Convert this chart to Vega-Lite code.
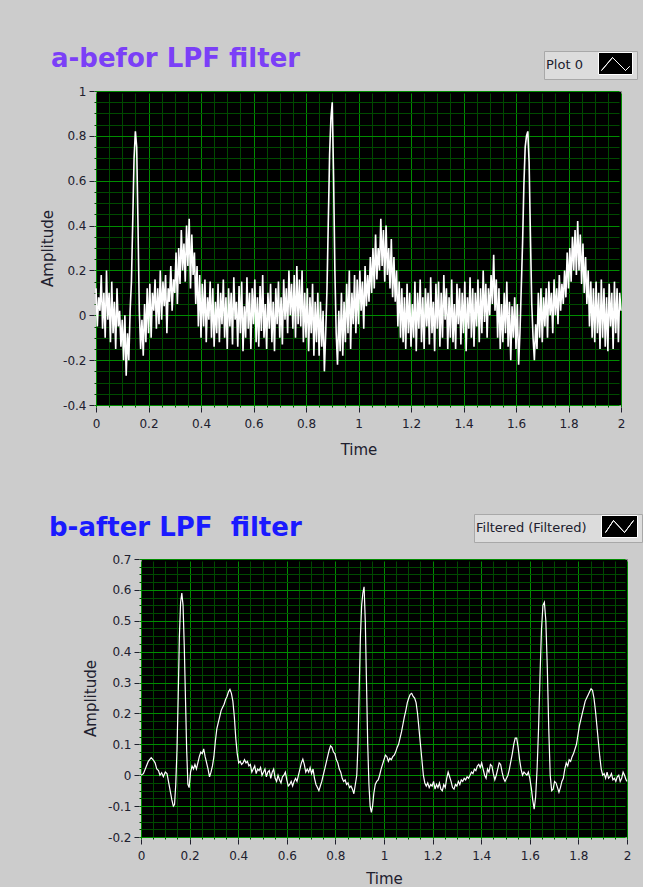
{
  "$schema": "https://vega.github.io/schema/vega-lite/v6.json",
  "background": "#cccccc",
  "padding": {"left": 38, "top": 45, "right": 0, "bottom": 0},
  "spacing": 55,
  "resolve": {"scale": {"stroke": "independent"}, "legend": {"stroke": "independent"}},
  "datasets": {
    "raw": [
{"t":0,"v":0.12},{"t":0.005,"v":-0.05},{"t":0.01,"v":0.08},{"t":0.015,"v":0.02},{"t":0.02,"v":0.18},{"t":0.025,"v":-0.06},{"t":0.03,"v":0.1},{"t":0.035,"v":-0.1},{"t":0.04,"v":0.2},{"t":0.045,"v":-0.02},
{"t":0.05,"v":0.1},{"t":0.055,"v":-0.12},{"t":0.06,"v":0.15},{"t":0.065,"v":-0.08},{"t":0.07,"v":0.06},{"t":0.075,"v":-0.15},{"t":0.08,"v":0.12},{"t":0.085,"v":-0.05},{"t":0.09,"v":0.02},{"t":0.095,"v":-0.14},
{"t":0.1,"v":-0.02},{"t":0.105,"v":-0.2},{"t":0.11,"v":0},{"t":0.115,"v":-0.27},{"t":0.12,"v":-0.08},{"t":0.125,"v":-0.2},{"t":0.13,"v":0.02},{"t":0.135,"v":0.15},{"t":0.14,"v":0.42},{"t":0.145,"v":0.7},
{"t":0.15,"v":0.82},{"t":0.155,"v":0.75},{"t":0.16,"v":0.4},{"t":0.165,"v":0.02},{"t":0.17,"v":-0.15},{"t":0.175,"v":-0.02},{"t":0.18,"v":-0.18},{"t":0.185,"v":0.05},{"t":0.19,"v":-0.12},{"t":0.195,"v":0.12},
{"t":0.2,"v":-0.08},{"t":0.205,"v":0.14},{"t":0.21,"v":-0.1},{"t":0.215,"v":0.1},{"t":0.22,"v":0.02},{"t":0.225,"v":0.16},{"t":0.23,"v":-0.06},{"t":0.235,"v":0.12},{"t":0.24,"v":-0.04},{"t":0.245,"v":0.2},
{"t":0.25,"v":-0.02},{"t":0.255,"v":0.15},{"t":0.26,"v":0.04},{"t":0.265,"v":0.18},{"t":0.27,"v":-0.08},{"t":0.275,"v":0.12},{"t":0.28,"v":0.06},{"t":0.285,"v":0.22},{"t":0.29,"v":0.02},{"t":0.295,"v":0.16},
{"t":0.3,"v":0.1},{"t":0.305,"v":0.28},{"t":0.31,"v":0.05},{"t":0.315,"v":0.3},{"t":0.32,"v":0.14},{"t":0.325,"v":0.38},{"t":0.33,"v":0.2},{"t":0.335,"v":0.32},{"t":0.34,"v":0.15},{"t":0.345,"v":0.4},
{"t":0.35,"v":0.22},{"t":0.355,"v":0.43},{"t":0.36,"v":0.12},{"t":0.365,"v":0.36},{"t":0.37,"v":0.18},{"t":0.375,"v":0.28},{"t":0.38,"v":0.05},{"t":0.385,"v":0.22},{"t":0.39,"v":-0.05},{"t":0.395,"v":0.18},
{"t":0.4,"v":-0.1},{"t":0.405,"v":0.14},{"t":0.41,"v":-0.05},{"t":0.415,"v":0.16},{"t":0.42,"v":-0.12},{"t":0.425,"v":0.08},{"t":0.43,"v":-0.02},{"t":0.435,"v":0.15},{"t":0.44,"v":-0.1},{"t":0.445,"v":0.12},
{"t":0.45,"v":-0.14},{"t":0.455,"v":0.06},{"t":0.46,"v":-0.08},{"t":0.465,"v":0.14},{"t":0.47,"v":-0.12},{"t":0.475,"v":0.1},{"t":0.48,"v":-0.04},{"t":0.485,"v":0.16},{"t":0.49,"v":-0.1},{"t":0.495,"v":0.08},
{"t":0.5,"v":-0.15},{"t":0.505,"v":0.12},{"t":0.51,"v":-0.05},{"t":0.515,"v":0.1},{"t":0.52,"v":-0.13},{"t":0.525,"v":0.17},{"t":0.53,"v":-0.02},{"t":0.535,"v":0.06},{"t":0.54,"v":-0.14},{"t":0.545,"v":0.13},
{"t":0.55,"v":-0.08},{"t":0.555,"v":0.15},{"t":0.56,"v":-0.16},{"t":0.565,"v":0.04},{"t":0.57,"v":-0.1},{"t":0.575,"v":0.17},{"t":0.58,"v":-0.06},{"t":0.585,"v":0.1},{"t":0.59,"v":-0.15},{"t":0.595,"v":0.12},
{"t":0.6,"v":-0.04},{"t":0.605,"v":0.16},{"t":0.61,"v":-0.12},{"t":0.615,"v":0.08},{"t":0.62,"v":-0.14},{"t":0.625,"v":0.13},{"t":0.63,"v":-0.07},{"t":0.635,"v":0.18},{"t":0.64,"v":-0.1},{"t":0.645,"v":0.05},
{"t":0.65,"v":-0.15},{"t":0.655,"v":0.1},{"t":0.66,"v":-0.06},{"t":0.665,"v":0.14},{"t":0.67,"v":-0.12},{"t":0.675,"v":0.06},{"t":0.68,"v":-0.16},{"t":0.685,"v":0.12},{"t":0.69,"v":-0.04},{"t":0.695,"v":0.15},
{"t":0.7,"v":-0.1},{"t":0.705,"v":0.08},{"t":0.71,"v":-0.13},{"t":0.715,"v":0.16},{"t":0.72,"v":-0.02},{"t":0.725,"v":0.12},{"t":0.73,"v":-0.08},{"t":0.735,"v":0.2},{"t":0.74,"v":0},{"t":0.745,"v":0.14},
{"t":0.75,"v":-0.06},{"t":0.755,"v":0.18},{"t":0.76,"v":-0.1},{"t":0.765,"v":0.22},{"t":0.77,"v":-0.04},{"t":0.775,"v":0.16},{"t":0.78,"v":-0.05},{"t":0.785,"v":0.2},{"t":0.79,"v":-0.12},{"t":0.795,"v":0.1},
{"t":0.8,"v":-0.1},{"t":0.805,"v":0.12},{"t":0.81,"v":-0.16},{"t":0.815,"v":0.08},{"t":0.82,"v":-0.08},{"t":0.825,"v":0.14},{"t":0.83,"v":-0.18},{"t":0.835,"v":0.06},{"t":0.84,"v":-0.12},{"t":0.845,"v":0.1},
{"t":0.85,"v":-0.18},{"t":0.855,"v":0.06},{"t":0.86,"v":-0.14},{"t":0.865,"v":0.02},{"t":0.87,"v":-0.25},{"t":0.875,"v":-0.08},{"t":0.88,"v":0.12},{"t":0.885,"v":0.42},{"t":0.89,"v":0.72},{"t":0.895,"v":0.88},
{"t":0.9,"v":0.95},{"t":0.905,"v":0.62},{"t":0.91,"v":0.2},{"t":0.915,"v":-0.08},{"t":0.92,"v":-0.22},{"t":0.925,"v":0.02},{"t":0.93,"v":-0.16},{"t":0.935,"v":0.1},{"t":0.94,"v":-0.18},{"t":0.945,"v":0.06},
{"t":0.95,"v":-0.12},{"t":0.955,"v":0.14},{"t":0.96,"v":-0.08},{"t":0.965,"v":0.2},{"t":0.97,"v":-0.15},{"t":0.975,"v":0.1},{"t":0.98,"v":-0.04},{"t":0.985,"v":0.18},{"t":0.99,"v":-0.08},{"t":0.995,"v":0.16},
{"t":1,"v":-0.04},{"t":1.005,"v":0.2},{"t":1.01,"v":0.02},{"t":1.015,"v":0.15},{"t":1.02,"v":-0.06},{"t":1.025,"v":0.22},{"t":1.03,"v":0.04},{"t":1.035,"v":0.18},{"t":1.04,"v":0.06},{"t":1.045,"v":0.26},
{"t":1.05,"v":0.1},{"t":1.055,"v":0.3},{"t":1.06,"v":0.12},{"t":1.065,"v":0.36},{"t":1.07,"v":0.16},{"t":1.075,"v":0.3},{"t":1.08,"v":0.2},{"t":1.085,"v":0.43},{"t":1.09,"v":0.22},{"t":1.095,"v":0.38},
{"t":1.1,"v":0.15},{"t":1.105,"v":0.4},{"t":1.11,"v":0.18},{"t":1.115,"v":0.3},{"t":1.12,"v":0.12},{"t":1.125,"v":0.34},{"t":1.13,"v":0.08},{"t":1.135,"v":0.26},{"t":1.14,"v":0.06},{"t":1.145,"v":0.2},
{"t":1.15,"v":-0.05},{"t":1.155,"v":0.15},{"t":1.16,"v":-0.1},{"t":1.165,"v":0.12},{"t":1.17,"v":-0.12},{"t":1.175,"v":0.08},{"t":1.18,"v":-0.15},{"t":1.185,"v":0.14},{"t":1.19,"v":-0.08},{"t":1.195,"v":0.1},
{"t":1.2,"v":-0.14},{"t":1.205,"v":0.05},{"t":1.21,"v":-0.1},{"t":1.215,"v":0.15},{"t":1.22,"v":-0.16},{"t":1.225,"v":0.1},{"t":1.23,"v":-0.06},{"t":1.235,"v":0.16},{"t":1.24,"v":-0.12},{"t":1.245,"v":0.08},
{"t":1.25,"v":-0.15},{"t":1.255,"v":0.12},{"t":1.26,"v":-0.05},{"t":1.265,"v":0.1},{"t":1.27,"v":-0.13},{"t":1.275,"v":0.17},{"t":1.28,"v":-0.08},{"t":1.285,"v":0.06},{"t":1.29,"v":-0.16},{"t":1.295,"v":0.14},
{"t":1.3,"v":-0.06},{"t":1.305,"v":0.15},{"t":1.31,"v":-0.14},{"t":1.315,"v":0.1},{"t":1.32,"v":-0.1},{"t":1.325,"v":0.18},{"t":1.33,"v":-0.02},{"t":1.335,"v":0.12},{"t":1.34,"v":-0.15},{"t":1.345,"v":0.08},
{"t":1.35,"v":-0.1},{"t":1.355,"v":0.16},{"t":1.36,"v":-0.12},{"t":1.365,"v":0.05},{"t":1.37,"v":-0.15},{"t":1.375,"v":0.14},{"t":1.38,"v":-0.04},{"t":1.385,"v":0.12},{"t":1.39,"v":-0.13},{"t":1.395,"v":0.1},
{"t":1.4,"v":-0.08},{"t":1.405,"v":0.15},{"t":1.41,"v":-0.16},{"t":1.415,"v":0.08},{"t":1.42,"v":-0.06},{"t":1.425,"v":0.17},{"t":1.43,"v":-0.1},{"t":1.435,"v":0.12},{"t":1.44,"v":-0.14},{"t":1.445,"v":0.1},
{"t":1.45,"v":-0.05},{"t":1.455,"v":0.16},{"t":1.46,"v":-0.12},{"t":1.465,"v":0.12},{"t":1.47,"v":-0.08},{"t":1.475,"v":0.2},{"t":1.48,"v":-0.03},{"t":1.485,"v":0.14},{"t":1.49,"v":-0.1},{"t":1.495,"v":0.12},
{"t":1.5,"v":0},{"t":1.505,"v":0.18},{"t":1.51,"v":0.05},{"t":1.515,"v":0.27},{"t":1.52,"v":0.02},{"t":1.525,"v":0.16},{"t":1.53,"v":-0.1},{"t":1.535,"v":0.12},{"t":1.54,"v":-0.15},{"t":1.545,"v":0.05},
{"t":1.55,"v":-0.12},{"t":1.555,"v":0.1},{"t":1.56,"v":-0.08},{"t":1.565,"v":0.15},{"t":1.57,"v":-0.14},{"t":1.575,"v":0.06},{"t":1.58,"v":-0.2},{"t":1.585,"v":0.04},{"t":1.59,"v":-0.1},{"t":1.595,"v":0.08},
{"t":1.6,"v":-0.15},{"t":1.605,"v":0.05},{"t":1.61,"v":-0.22},{"t":1.615,"v":-0.08},{"t":1.62,"v":0.12},{"t":1.625,"v":0.32},{"t":1.63,"v":0.58},{"t":1.635,"v":0.75},{"t":1.64,"v":0.8},{"t":1.645,"v":0.82},
{"t":1.65,"v":0.68},{"t":1.655,"v":0.35},{"t":1.66,"v":0.05},{"t":1.665,"v":-0.1},{"t":1.67,"v":-0.2},{"t":1.675,"v":-0.04},{"t":1.68,"v":-0.15},{"t":1.685,"v":0.1},{"t":1.69,"v":-0.1},{"t":1.695,"v":0.12},
{"t":1.7,"v":-0.12},{"t":1.705,"v":0.08},{"t":1.71,"v":-0.05},{"t":1.715,"v":0.12},{"t":1.72,"v":-0.1},{"t":1.725,"v":0.15},{"t":1.73,"v":0},{"t":1.735,"v":0.1},{"t":1.74,"v":-0.08},{"t":1.745,"v":0.16},
{"t":1.75,"v":0},{"t":1.755,"v":0.12},{"t":1.76,"v":-0.04},{"t":1.765,"v":0.18},{"t":1.77,"v":0.02},{"t":1.775,"v":0.14},{"t":1.78,"v":0.05},{"t":1.785,"v":0.2},{"t":1.79,"v":0.08},{"t":1.795,"v":0.28},
{"t":1.8,"v":0.12},{"t":1.805,"v":0.3},{"t":1.81,"v":0.15},{"t":1.815,"v":0.35},{"t":1.82,"v":0.2},{"t":1.825,"v":0.38},{"t":1.83,"v":0.18},{"t":1.835,"v":0.42},{"t":1.84,"v":0.2},{"t":1.845,"v":0.36},
{"t":1.85,"v":0.14},{"t":1.855,"v":0.32},{"t":1.86,"v":0.1},{"t":1.865,"v":0.26},{"t":1.87,"v":0.05},{"t":1.875,"v":0.2},{"t":1.88,"v":-0.05},{"t":1.885,"v":0.15},{"t":1.89,"v":-0.1},{"t":1.895,"v":0.12},
{"t":1.9,"v":-0.12},{"t":1.905,"v":0.15},{"t":1.91,"v":-0.08},{"t":1.915,"v":0.1},{"t":1.92,"v":-0.15},{"t":1.925,"v":0.16},{"t":1.93,"v":-0.1},{"t":1.935,"v":0.12},{"t":1.94,"v":-0.14},{"t":1.945,"v":0.08},
{"t":1.95,"v":-0.16},{"t":1.955,"v":0.14},{"t":1.96,"v":-0.05},{"t":1.965,"v":0.1},{"t":1.97,"v":-0.15},{"t":1.975,"v":0.15},{"t":1.98,"v":-0.08},{"t":1.985,"v":0.12},{"t":1.99,"v":-0.12},{"t":1.995,"v":0.1},
{"t":2,"v":0.02}
    ],
    "filtered": [
{"t":0,"v":0},{"t":0.01,"v":0.005},{"t":0.02,"v":0.025},{"t":0.03,"v":0.045},{"t":0.042,"v":0.057},{"t":0.05,"v":0.05},{"t":0.058,"v":0.04},{"t":0.065,"v":0.02},{"t":0.072,"v":0.015},{"t":0.078,"v":0},{"t":0.085,"v":0.008},{"t":0.092,"v":-0.005},{"t":0.1,"v":0.01},{"t":0.107,"v":0.005},{"t":0.113,"v":-0.02},{"t":0.12,"v":-0.05},{"t":0.127,"v":-0.08},{"t":0.133,"v":-0.1},{"t":0.138,"v":-0.095},{"t":0.143,"v":-0.03},{"t":0.148,"v":0.08},{"t":0.153,"v":0.25},{"t":0.158,"v":0.45},{"t":0.163,"v":0.56},{"t":0.168,"v":0.59},{"t":0.173,"v":0.55},{"t":0.178,"v":0.42},{"t":0.183,"v":0.25},{"t":0.188,"v":0.08},{"t":0.193,"v":-0.03},{"t":0.198,"v":-0.04},{"t":0.204,"v":0.01},{"t":0.21,"v":0.03},{"t":0.216,"v":0.02},{"t":0.222,"v":0.035},{"t":0.228,"v":0.02},{"t":0.234,"v":0.04},{"t":0.24,"v":0.06},{"t":0.246,"v":0.075},{"t":0.252,"v":0.07},{"t":0.258,"v":0.085},{"t":0.264,"v":0.06},{"t":0.27,"v":0.04},{"t":0.276,"v":0.02},{"t":0.282,"v":-0.005},{"t":0.288,"v":0.01},{"t":0.294,"v":0.03},{"t":0.3,"v":0.06},{"t":0.306,"v":0.11},{"t":0.312,"v":0.15},{"t":0.318,"v":0.17},{"t":0.324,"v":0.19},{"t":0.33,"v":0.21},{"t":0.336,"v":0.22},{"t":0.342,"v":0.23},{"t":0.348,"v":0.245},{"t":0.354,"v":0.255},{"t":0.36,"v":0.27},{"t":0.366,"v":0.278},{"t":0.372,"v":0.265},{"t":0.378,"v":0.24},{"t":0.384,"v":0.19},{"t":0.39,"v":0.12},{"t":0.396,"v":0.07},{"t":0.402,"v":0.04},{"t":0.408,"v":0.045},{"t":0.414,"v":0.035},{"t":0.42,"v":0.04},{"t":0.426,"v":0.05},{"t":0.432,"v":0.04},{"t":0.438,"v":0.045},{"t":0.444,"v":0.03},{"t":0.45,"v":0.035},{"t":0.456,"v":0.01},{"t":0.462,"v":0.02},{"t":0.468,"v":0.03},{"t":0.474,"v":0.005},{"t":0.48,"v":0.02},{"t":0.486,"v":0.015},{"t":0.492,"v":0.025},{"t":0.498,"v":0},{"t":0.504,"v":0.01},{"t":0.51,"v":0.02},{"t":0.516,"v":-0.005},{"t":0.522,"v":0.01},{"t":0.528,"v":0.015},{"t":0.534,"v":-0.01},{"t":0.54,"v":0.01},{"t":0.546,"v":0.02},{"t":0.552,"v":-0.01},{"t":0.558,"v":-0.02},{"t":0.564,"v":0},{"t":0.57,"v":-0.015},{"t":0.576,"v":-0.025},{"t":0.582,"v":-0.005},{"t":0.588,"v":0},{"t":0.594,"v":0.01},{"t":0.6,"v":-0.015},{"t":0.606,"v":-0.035},{"t":0.612,"v":-0.03},{"t":0.618,"v":-0.02},{"t":0.624,"v":-0.035},{"t":0.63,"v":-0.02},{"t":0.636,"v":-0.01},{"t":0.642,"v":-0.02},{"t":0.648,"v":0},{"t":0.654,"v":0.02},{"t":0.66,"v":0.04},{"t":0.666,"v":0.052},{"t":0.672,"v":0.035},{"t":0.678,"v":0.01},{"t":0.684,"v":0.02},{"t":0.69,"v":0.01},{"t":0.696,"v":0.025},{"t":0.702,"v":0.005},{"t":0.708,"v":0.02},{"t":0.714,"v":-0.01},{"t":0.72,"v":-0.03},{"t":0.726,"v":-0.04},{"t":0.732,"v":-0.05},{"t":0.738,"v":-0.035},{"t":0.744,"v":-0.02},{"t":0.75,"v":0},{"t":0.756,"v":0.02},{"t":0.762,"v":0.04},{"t":0.768,"v":0.06},{"t":0.774,"v":0.08},{"t":0.78,"v":0.095},{"t":0.786,"v":0.09},{"t":0.792,"v":0.075},{"t":0.798,"v":0.07},{"t":0.804,"v":0.05},{"t":0.81,"v":0.04},{"t":0.816,"v":0.02},{"t":0.822,"v":0.01},{"t":0.828,"v":-0.01},{"t":0.834,"v":-0.02},{"t":0.84,"v":-0.015},{"t":0.846,"v":-0.03},{"t":0.852,"v":-0.025},{"t":0.858,"v":-0.04},{"t":0.864,"v":-0.035},{"t":0.87,"v":-0.045},{"t":0.876,"v":-0.06},{"t":0.882,"v":-0.03},{"t":0.888,"v":0},{"t":0.893,"v":0.1},{"t":0.898,"v":0.28},{"t":0.903,"v":0.45},{"t":0.908,"v":0.55},{"t":0.913,"v":0.59},{"t":0.918,"v":0.61},{"t":0.923,"v":0.5},{"t":0.928,"v":0.3},{"t":0.933,"v":0.1},{"t":0.938,"v":-0.03},{"t":0.943,"v":-0.1},{"t":0.948,"v":-0.12},{"t":0.953,"v":-0.1},{"t":0.958,"v":-0.06},{"t":0.964,"v":-0.03},{"t":0.97,"v":-0.02},{"t":0.976,"v":-0.015},{"t":0.982,"v":0},{"t":0.988,"v":0.02},{"t":0.994,"v":0.035},{"t":1,"v":0.05},{"t":1.006,"v":0.065},{"t":1.012,"v":0.06},{"t":1.018,"v":0.045},{"t":1.024,"v":0.055},{"t":1.03,"v":0.05},{"t":1.036,"v":0.06},{"t":1.042,"v":0.065},{"t":1.048,"v":0.075},{"t":1.054,"v":0.09},{"t":1.06,"v":0.1},{"t":1.066,"v":0.12},{"t":1.072,"v":0.14},{"t":1.078,"v":0.165},{"t":1.084,"v":0.19},{"t":1.09,"v":0.21},{"t":1.096,"v":0.235},{"t":1.102,"v":0.25},{"t":1.108,"v":0.262},{"t":1.114,"v":0.265},{"t":1.12,"v":0.255},{"t":1.126,"v":0.25},{"t":1.132,"v":0.235},{"t":1.138,"v":0.2},{"t":1.144,"v":0.15},{"t":1.15,"v":0.1},{"t":1.156,"v":0.05},{"t":1.162,"v":0},{"t":1.168,"v":-0.025},{"t":1.174,"v":-0.035},{"t":1.18,"v":-0.025},{"t":1.186,"v":-0.04},{"t":1.192,"v":-0.03},{"t":1.198,"v":-0.035},{"t":1.204,"v":-0.02},{"t":1.21,"v":-0.045},{"t":1.216,"v":-0.03},{"t":1.222,"v":-0.04},{"t":1.228,"v":-0.025},{"t":1.234,"v":-0.045},{"t":1.24,"v":-0.05},{"t":1.246,"v":-0.03},{"t":1.252,"v":-0.04},{"t":1.258,"v":-0.01},{"t":1.264,"v":0.01},{"t":1.27,"v":-0.005},{"t":1.276,"v":-0.02},{"t":1.282,"v":-0.04},{"t":1.288,"v":-0.045},{"t":1.294,"v":-0.03},{"t":1.3,"v":-0.035},{"t":1.306,"v":-0.02},{"t":1.312,"v":-0.03},{"t":1.318,"v":-0.015},{"t":1.324,"v":-0.02},{"t":1.33,"v":-0.01},{"t":1.336,"v":-0.015},{"t":1.342,"v":-0.005},{"t":1.348,"v":-0.01},{"t":1.354,"v":0},{"t":1.36,"v":0.01},{"t":1.366,"v":0.005},{"t":1.372,"v":0.02},{"t":1.378,"v":0.015},{"t":1.384,"v":0.03},{"t":1.39,"v":0.035},{"t":1.396,"v":0.025},{"t":1.402,"v":0.04},{"t":1.408,"v":0.02},{"t":1.414,"v":0},{"t":1.42,"v":-0.01},{"t":1.426,"v":0.02},{"t":1.432,"v":0.01},{"t":1.438,"v":0.035},{"t":1.444,"v":0.03},{"t":1.45,"v":0.005},{"t":1.456,"v":-0.015},{"t":1.462,"v":0},{"t":1.468,"v":0.02},{"t":1.474,"v":0.04},{"t":1.48,"v":0.035},{"t":1.486,"v":0.01},{"t":1.492,"v":-0.01},{"t":1.498,"v":-0.02},{"t":1.504,"v":-0.01},{"t":1.51,"v":0},{"t":1.516,"v":0.02},{"t":1.522,"v":0.045},{"t":1.528,"v":0.07},{"t":1.534,"v":0.1},{"t":1.54,"v":0.12},{"t":1.546,"v":0.12},{"t":1.552,"v":0.09},{"t":1.558,"v":0.05},{"t":1.564,"v":0.02},{"t":1.57,"v":0},{"t":1.576,"v":0.01},{"t":1.582,"v":0.005},{"t":1.588,"v":0},{"t":1.594,"v":0.01},{"t":1.6,"v":-0.01},{"t":1.606,"v":-0.04},{"t":1.612,"v":-0.08},{"t":1.618,"v":-0.11},{"t":1.624,"v":-0.07},{"t":1.63,"v":0.02},{"t":1.636,"v":0.15},{"t":1.642,"v":0.32},{"t":1.648,"v":0.47},{"t":1.654,"v":0.55},{"t":1.66,"v":0.56},{"t":1.666,"v":0.5},{"t":1.672,"v":0.35},{"t":1.678,"v":0.15},{"t":1.684,"v":0},{"t":1.69,"v":-0.05},{"t":1.696,"v":-0.045},{"t":1.702,"v":-0.02},{"t":1.708,"v":-0.025},{"t":1.714,"v":-0.04},{"t":1.72,"v":-0.055},{"t":1.726,"v":-0.04},{"t":1.732,"v":-0.02},{"t":1.738,"v":-0.01},{"t":1.744,"v":0.02},{"t":1.75,"v":0.04},{"t":1.756,"v":0.03},{"t":1.762,"v":0.05},{"t":1.768,"v":0.045},{"t":1.774,"v":0.06},{"t":1.78,"v":0.07},{"t":1.786,"v":0.085},{"t":1.792,"v":0.1},{"t":1.798,"v":0.13},{"t":1.804,"v":0.16},{"t":1.81,"v":0.18},{"t":1.816,"v":0.2},{"t":1.822,"v":0.22},{"t":1.828,"v":0.24},{"t":1.834,"v":0.25},{"t":1.84,"v":0.26},{"t":1.846,"v":0.27},{"t":1.852,"v":0.28},{"t":1.858,"v":0.275},{"t":1.864,"v":0.25},{"t":1.87,"v":0.21},{"t":1.876,"v":0.16},{"t":1.882,"v":0.11},{"t":1.888,"v":0.06},{"t":1.894,"v":0.02},{"t":1.9,"v":0},{"t":1.906,"v":0.005},{"t":1.912,"v":-0.01},{"t":1.918,"v":0.01},{"t":1.924,"v":-0.01},{"t":1.93,"v":-0.005},{"t":1.936,"v":0.005},{"t":1.942,"v":-0.015},{"t":1.948,"v":-0.01},{"t":1.954,"v":-0.02},{"t":1.96,"v":-0.005},{"t":1.966,"v":0},{"t":1.972,"v":-0.02},{"t":1.978,"v":-0.01},{"t":1.984,"v":0.01},{"t":1.99,"v":0},{"t":1.996,"v":-0.015},{"t":2,"v":-0.02}
    ]
  },
  "vconcat": [
    {
      "spacing": 0,
      "resolve": {"scale": {"stroke": "independent"}, "legend": {"stroke": "independent"}},
      "hconcat": [
        {"width": 1, "height": 1, "data": {"values": [{}]}, "mark": {"type": "rule", "opacity": 0}, "encoding": {}},
        {
          "width": 525,
          "height": 314,
          "view": {"fill": "#000000", "stroke": "#8c8c8c", "strokeWidth": 1},
          "title": {"text": "a-befor LPF filter", "anchor": "start", "frame": "group", "dx": -45, "offset": -42, "font": "DejaVu Sans", "fontSize": 26, "fontWeight": "bold", "color": "#7b3ff7", "baseline": "alphabetic"},
          "data": {"name": "raw"},
          "mark": {"type": "line", "strokeWidth": 1.6, "interpolate": "linear"},
          "encoding": {
            "x": {"field": "t", "type": "quantitative", "scale": {"domain": [0, 2], "nice": false, "zero": false},
              "axis": {"title": "Time", "format": ".2~f", "titlePadding": 13,
                "values": [0,0.05,0.1,0.15,0.2,0.25,0.3,0.35,0.4,0.45,0.5,0.55,0.6,0.65,0.7,0.75,0.8,0.85,0.9,0.95,1,1.05,1.1,1.15,1.2,1.25,1.3,1.35,1.4,1.45,1.5,1.55,1.6,1.65,1.7,1.75,1.8,1.85,1.9,1.95,2],
                "labelExpr": "abs(datum.value*5-round(datum.value*5))<0.001 ? datum.label : ''",
                "gridColor": {"condition": {"test": "abs(datum.value*5-round(datum.value*5))<0.001", "value": "#008c00"}, "value": "#004a00"},
                "tickOpacity": {"condition": {"test": "abs(datum.value*5-round(datum.value*5))<0.001", "value": 1}, "value": 0}}},
            "y": {"field": "v", "type": "quantitative", "scale": {"domain": [-0.4, 1], "nice": false, "zero": false},
              "axis": {"title": "Amplitude", "format": ".2~f", "titlePadding": 7,
                "values": [-0.4,-0.35,-0.3,-0.25,-0.2,-0.15,-0.1,-0.05,0,0.05,0.1,0.15,0.2,0.25,0.3,0.35,0.4,0.45,0.5,0.55,0.6,0.65,0.7,0.75,0.8,0.85,0.9,0.95,1],
                "labelExpr": "abs(datum.value*5-round(datum.value*5))<0.001 ? replace(datum.label,'\u2212','-') : ''",
                "gridColor": {"condition": {"test": "abs(datum.value*5-round(datum.value*5))<0.001", "value": "#008c00"}, "value": "#004a00"},
                "tickOpacity": {"condition": {"test": "abs(datum.value*5-round(datum.value*5))<0.001", "value": 1}, "value": 0}}},
            "stroke": {"datum": "Plot 0", "type": "nominal", "scale": {"range": ["#ffffff"]},
              "legend": {"title": "Plot 0", "titleOrient": "left", "titlePadding": 15, "titleFont": "DejaVu Sans", "titleFontSize": 13, "titleFontWeight": "normal", "titleColor": "#20202e",
                "labelExpr": "''", "labelOffset": 0,
                "orient": "none", "legendX": 448, "legendY": -40, "padding": 2,
                "symbolType": "M-1.7,-1.1H1.7V1.1H-1.7Z M-1.4,0.7L-0.3,-0.6L1,0.7L1.4,0.3L1,0.7L-0.3,-0.6Z",
                "symbolSize": 400, "symbolStrokeWidth": 1, "symbolOffset": 7,
                "fillColor": "#dcdcdc", "strokeColor": "#a8a8a8",
                "encode": {"symbols": {"update": {"fill": {"value": "#000000"}, "stroke": {"value": "#ffffff"}, "opacity": {"value": 1}}}}}}
          }
        }
      ]
    },
    {
      "spacing": 0,
      "resolve": {"scale": {"stroke": "independent"}, "legend": {"stroke": "independent"}},
      "hconcat": [
        {"width": 1, "height": 1, "data": {"values": [{}]}, "mark": {"type": "rule", "opacity": 0}, "encoding": {}},
        {
          "width": 486,
          "height": 278,
          "view": {"fill": "#000000", "stroke": "#8c8c8c", "strokeWidth": 1},
          "title": {"text": "b-after LPF\u00a0 filter", "anchor": "start", "frame": "group", "dx": -92, "offset": -48, "font": "DejaVu Sans", "fontSize": 26, "fontWeight": "bold", "color": "#1a1aff", "baseline": "alphabetic"},
          "data": {"name": "filtered"},
          "mark": {"type": "line", "strokeWidth": 1.2, "interpolate": "linear"},
          "encoding": {
            "x": {"field": "t", "type": "quantitative", "scale": {"domain": [0, 2], "nice": false, "zero": false},
              "axis": {"title": "Time", "format": ".2~f", "titlePadding": 10,
                "values": [0,0.05,0.1,0.15,0.2,0.25,0.3,0.35,0.4,0.45,0.5,0.55,0.6,0.65,0.7,0.75,0.8,0.85,0.9,0.95,1,1.05,1.1,1.15,1.2,1.25,1.3,1.35,1.4,1.45,1.5,1.55,1.6,1.65,1.7,1.75,1.8,1.85,1.9,1.95,2],
                "labelExpr": "abs(datum.value*5-round(datum.value*5))<0.001 ? datum.label : ''",
                "gridColor": {"condition": {"test": "abs(datum.value*5-round(datum.value*5))<0.001", "value": "#008c00"}, "value": "#004a00"},
                "tickOpacity": {"condition": {"test": "abs(datum.value*5-round(datum.value*5))<0.001", "value": 1}, "value": 0}}},
            "y": {"field": "v", "type": "quantitative", "scale": {"domain": [-0.2, 0.7], "nice": false, "zero": false},
              "axis": {"title": ["", "Amplitude"], "titleLineHeight": 43, "format": ".3~f", "titlePadding": 9,
                "values": [-0.2,-0.175,-0.15,-0.125,-0.1,-0.075,-0.05,-0.025,0,0.025,0.05,0.075,0.1,0.125,0.15,0.175,0.2,0.225,0.25,0.275,0.3,0.325,0.35,0.375,0.4,0.425,0.45,0.475,0.5,0.525,0.55,0.575,0.6,0.625,0.65,0.675,0.7],
                "labelExpr": "abs(datum.value*10-round(datum.value*10))<0.001 ? replace(datum.label,'\u2212','-') : ''",
                "gridColor": {"condition": {"test": "abs(datum.value*10-round(datum.value*10))<0.001", "value": "#008c00"}, "value": "#004a00"},
                "tickOpacity": {"condition": {"test": "abs(datum.value*10-round(datum.value*10))<0.001", "value": 1}, "value": 0}}},
            "stroke": {"datum": "Filtered (Filtered)", "type": "nominal", "scale": {"range": ["#ffffff"]},
              "legend": {"title": "Filtered (Filtered)", "titleOrient": "left", "titlePadding": 14, "titleFont": "DejaVu Sans", "titleFontSize": 13, "titleFontWeight": "normal", "titleColor": "#20202e",
                "labelExpr": "''", "labelOffset": 0,
                "orient": "none", "legendX": 333, "legendY": -45, "padding": 2,
                "symbolType": "M-1.8,-1.1H1.8V1.1H-1.8Z M-1.4,0.6L-0.6,-0.6L0.5,0.6L1.4,-0.6L0.5,0.6L-0.6,-0.6Z",
                "symbolSize": 400, "symbolStrokeWidth": 1, "symbolOffset": 8,
                "fillColor": "#dcdcdc", "strokeColor": "#a8a8a8",
                "encode": {"symbols": {"update": {"fill": {"value": "#000000"}, "stroke": {"value": "#ffffff"}, "opacity": {"value": 1}}}}}}
          }
        }
      ]
    }
  ],
  "config": {
    "view": {"stroke": null},
    "axis": {"labelFont": "DejaVu Sans", "labelFontSize": 12, "labelColor": "#20202e", "titleFont": "DejaVu Sans", "titleFontSize": 15, "titleFontWeight": "normal", "titleColor": "#20202e", "domain": false, "tickColor": "#20202e", "tickSize": 5, "offset": 2, "labelPadding": 3, "labelOverlap": false, "labelFlush": false, "labelBound": false, "gridWidth": 1},
    "axisX": {"labelPadding": 6},
    "legend": {"cornerRadius": 0}
  }
}
